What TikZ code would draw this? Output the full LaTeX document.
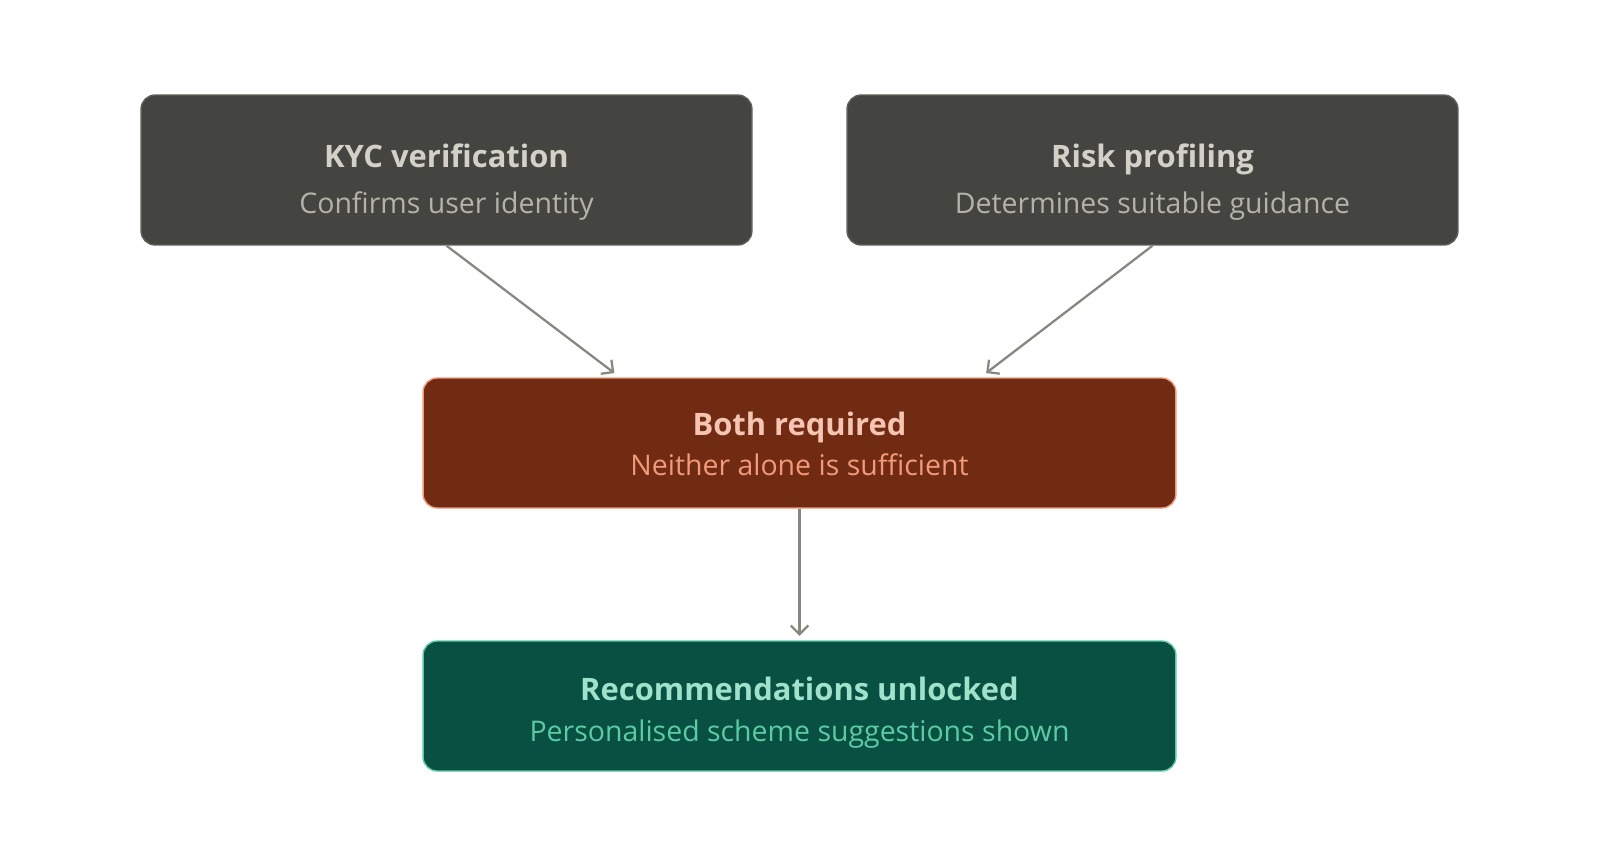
\documentclass[tikz,border=0pt]{standalone}
\usepackage{fontspec}
\setmainfont{Open Sans}
\usepackage{tikz}
\usetikzlibrary{arrows.meta, positioning, calc}
\usepackage{xcolor}
\definecolor{slatefill}{HTML}{444441}
\definecolor{slateline}{HTML}{5F5E5A}
\definecolor{slatetitle}{HTML}{D3D1C7}
\definecolor{slatesub}{HTML}{B4B2A9}
\definecolor{rustfill}{HTML}{712B13}
\definecolor{rustline}{HTML}{F0997B}
\definecolor{rusttitle}{HTML}{F5C4B3}
\definecolor{tealfill}{HTML}{085041}
\definecolor{tealline}{HTML}{5DCAA5}
\definecolor{tealtitle}{HTML}{9FE1CB}
\definecolor{flowgray}{HTML}{888780}

\tikzset{
  card/.style={rounded corners=8pt, line width=0.8pt, inner sep=0pt},
  cardtitle/.style={font=\fontsize{17.6}{20}\selectfont\bfseries, inner sep=0pt, anchor=base},
  cardsub/.style={font=\fontsize{16.2}{18}\selectfont, inner sep=0pt, anchor=base},
  flow/.style={flowgray, line width=1.3pt,
    -{Straight Barb[length=5pt, width=10pt, line width=1.3pt]}}
}

\begin{document}
\begin{tikzpicture}[x=0.02cm, y=-0.02cm]
      \useasboundingbox (0,0) rectangle (1600,867);
      % top row
      \node[card, draw=slateline, fill=slatefill, minimum width=12.22cm, minimum height=3cm]
        (kyc) at (446.5,170) {};
      \node[card, draw=slateline, fill=slatefill, minimum width=12.22cm, minimum height=3cm]
        (risk) at (1152.5,170) {};
      \node[cardtitle, text=slatetitle] (kyctitle) at (446.5,167) {KYC verification};
      \node[cardsub, text=slatesub] (kycsub) at (446.5,213) {Confirms user identity};
      \node[cardtitle, text=slatetitle] (risktitle) at (1152.5,167) {Risk profiling};
      \node[cardsub, text=slatesub] (risksub) at (1152.5,213) {Determines suitable guidance};
      % gate
      \node[card, draw=rustline, fill=rustfill, minimum width=15.06cm, minimum height=2.6cm]
        (both) at (799.5,443) {};
      \node[cardtitle, text=rusttitle] (bothtitle) at (799.5,435) {Both required};
      \node[cardsub, text=rustline] (bothsub) at (799.5,475) {Neither alone is sufficient};
      % outcome
      \node[card, draw=tealline, fill=tealfill, minimum width=15.06cm, minimum height=2.6cm]
        (recs) at (799.5,706) {};
      \node[cardtitle, text=tealtitle] (recstitle) at (799.5,700) {Recommendations unlocked};
      \node[cardsub, text=tealline] (recssub) at (799.5,741) {Personalised scheme suggestions shown};
      % connectors
      \draw[flow, shorten >=4pt] (kyc.south) -- ($(both.north west)!0.262!(both.north east)$);
      \draw[flow, shorten >=4pt] (risk.south) -- ($(both.north west)!0.74!(both.north east)$);
      \draw[flow, shorten >=2.5pt] (both.south) -- (recs.north);
    \end{tikzpicture}
\end{document}
